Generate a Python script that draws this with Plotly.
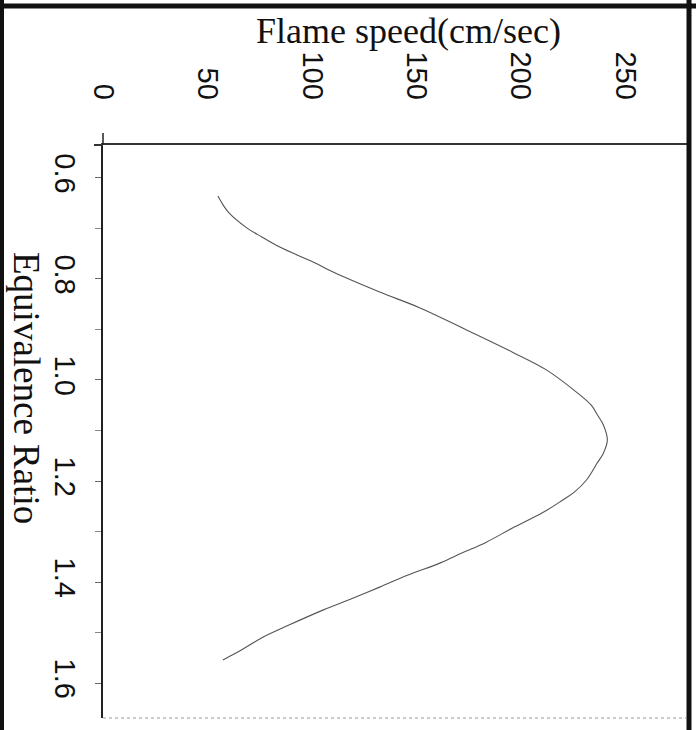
import plotly.graph_objects as go

# Flame speed (cm/sec) vs equivalence ratio, read from the (rotated) reference
equivalence_ratio = [0.636, 0.653, 0.669, 0.699, 0.717, 0.737, 0.768, 0.786, 0.826, 0.857,
                     0.901, 0.945, 0.980, 1.024, 1.050, 1.069, 1.089, 1.119, 1.145, 1.164,
                     1.198, 1.222, 1.238, 1.263, 1.293, 1.321, 1.343, 1.362, 1.386, 1.410,
                     1.432, 1.455, 1.485, 1.509, 1.535, 1.554]
flame_speed = [55.0, 57.4, 60.2, 68.8, 76.0, 84.6, 101.3, 109.9, 132.4, 151.5,
               174.0, 196.0, 212.2, 226.6, 233.7, 236.6, 239.5, 241.4, 239.5, 236.6,
               231.4, 225.6, 219.9, 210.3, 196.0, 183.5, 171.5, 161.5, 146.0, 132.4,
               119.5, 105.5, 89.0, 76.5, 66.0, 57.4]

speed_ticks = [0, 50, 100, 150, 200, 250]
ratio_ticks = [0.6, 0.8, 1.0, 1.2, 1.4, 1.6]
ratio_tick_text = ["0.6", "0.8", "1.0", "1.2", "1.4", "1.6"]

x_title = "Flame speed(cm/sec)"
y_title = "Equivalence Ratio"

W, H = 696, 730
L, R, T, B = 103, 8, 145, 12
PW, PH = W - L - R, H - T - B


def px_x(x):
    return (x - L) / PW


def px_y(y):
    return 1 - (y - T) / PH


fig = go.Figure()
fig.add_trace(go.Scatter(
    x=flame_speed, y=equivalence_ratio, mode="lines",
    line=dict(color="#555555", width=1.1, shape="spline", smoothing=1.0),
    showlegend=False, hoverinfo="skip"))

tick_font = dict(family="Liberation Sans, Arial, sans-serif", size=29, color="#111")
serif = "Liberation Serif, Times New Roman, serif"

fig.update_layout(
    width=W, height=H,
    margin=dict(l=L, r=R, t=T, b=B),
    paper_bgcolor="white", plot_bgcolor="white",
    xaxis=dict(
        side="top", range=[0, 280], tickvals=speed_ticks,
        ticktext=[str(v) for v in speed_ticks],
        tickangle=90, tickfont=tick_font, ticks="", ticklabelstandoff=33,
        showgrid=False, zeroline=False, showline=True, linecolor="#333", linewidth=2,
        mirror=False, fixedrange=True),
    yaxis=dict(
        range=[1.669, 0.535], tickvals=ratio_ticks, ticktext=ratio_tick_text,
        tickangle=90, tickfont=tick_font, ticks="outside", ticklen=6, tickwidth=1,
        tickcolor="#666", ticklabelstandoff=5,
        minor=dict(dtick=0.1, tick0=0.6, ticks="outside", ticklen=6, tickcolor="#888"),
        showgrid=False, zeroline=False, showline=True, linecolor="#222", linewidth=1.5,
        mirror=False, fixedrange=True),
    annotations=[
        dict(text=x_title, xref="paper", yref="paper", x=px_x(408), y=px_y(31),
             xanchor="center", yanchor="middle", showarrow=False,
             font=dict(family=serif, size=36, color="#111")),
        dict(text=y_title, xref="paper", yref="paper", x=px_x(27), y=px_y(388),
             xanchor="center", yanchor="middle", showarrow=False, textangle=90,
             font=dict(family=serif, size=37, color="#111")),
    ],
    shapes=[
        # page frame from the scan
        dict(type="line", xref="paper", yref="paper", x0=px_x(2), x1=px_x(2),
             y0=px_y(0), y1=px_y(H), line=dict(color="#111", width=4)),
        dict(type="line", xref="paper", yref="paper", x0=px_x(0), x1=px_x(W),
             y0=px_y(6), y1=px_y(6), line=dict(color="#111", width=5)),
        dict(type="line", xref="paper", yref="paper", x0=px_x(689), x1=px_x(689),
             y0=px_y(0), y1=px_y(H), line=dict(color="#111", width=5)),
        # axis line extensions
        dict(type="line", xref="paper", yref="paper", x0=px_x(103), x1=px_x(103),
             y0=px_y(133), y1=px_y(145), line=dict(color="#222", width=1.5)),
        dict(type="line", xref="paper", yref="paper", x0=px_x(94), x1=px_x(103),
             y0=px_y(145), y1=px_y(145), line=dict(color="#333", width=2)),
        # faint dotted bottom edge
        dict(type="line", xref="paper", yref="paper", x0=px_x(103), x1=px_x(686),
             y0=px_y(718), y1=px_y(718), line=dict(color="#999", width=1, dash="dot")),
    ],
)

fig.write_html("out.html")
